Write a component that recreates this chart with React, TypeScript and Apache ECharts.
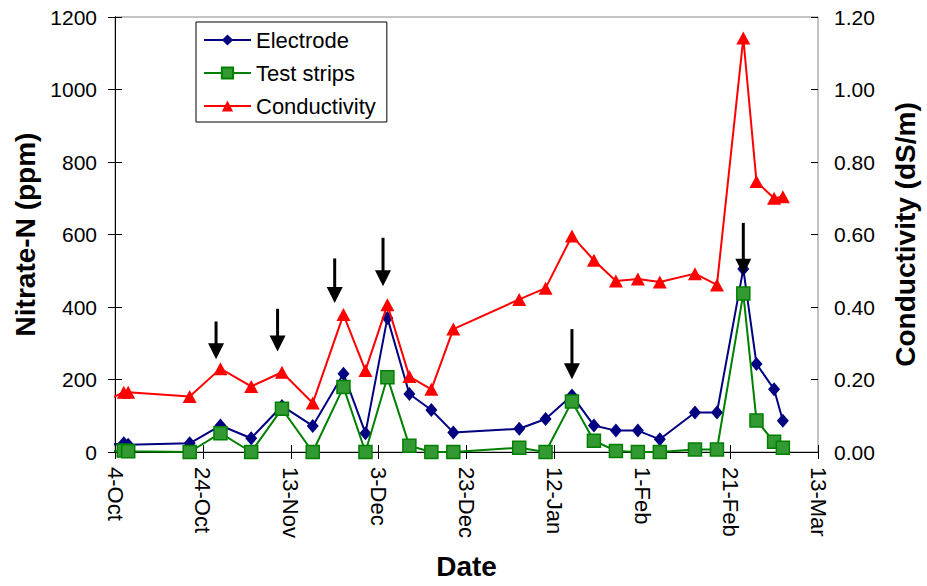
import React, { useEffect, useRef } from "react";
import * as echarts from "echarts";

// Sampling dates (first one precedes the axis start and is clipped)
const START = "2004-10-04";
const sampleDates = [
  "2004-09-30", "2004-10-06", "2004-10-07", "2004-10-21", "2004-10-28",
  "2004-11-04", "2004-11-11", "2004-11-18", "2004-11-25", "2004-11-30",
  "2004-12-05", "2004-12-10", "2004-12-15", "2004-12-20", "2005-01-04",
  "2005-01-10", "2005-01-16", "2005-01-21", "2005-01-26", "2005-01-31",
  "2005-02-05", "2005-02-13", "2005-02-18", "2005-02-24", "2005-02-27",
  "2005-03-03", "2005-03-05",
];

// Nitrate-N (ppm)
const electrode = [
  16, 24, 20, 24, 73, 38, 127, 72, 216, 52, 370, 160, 116, 54, 64,
  91, 156, 73, 59, 59, 35, 109, 109, 505, 243, 173, 86,
];
const testStrips = [
  0, 4, 2, 0, 52, 0, 119, 0, 179, 0, 206, 17, 0, 0, 12,
  0, 139, 31, 3, 0, 0, 7, 7, 437, 87, 28, 12,
];
// Conductivity (dS/m)
const conductivity = [
  0.13, 0.165, 0.165, 0.153, 0.23, 0.181, 0.22, 0.135, 0.379, 0.225, 0.406,
  0.208, 0.173, 0.339, 0.421, 0.452, 0.596, 0.529, 0.472, 0.477, 0.469,
  0.492, 0.461, 1.142, 0.746, 0.7, 0.704,
];

// Event arrows: date, tip and tail heights on the nitrate scale (ppm)
const arrowDates = ["2004-10-27", "2004-11-10", "2004-11-23", "2004-12-04", "2005-01-16", "2005-02-24"];
const arrowTips = [256, 277, 411, 457, 201, 489];
const arrowTails = [360, 395, 534, 591, 339, 632];

const xTickLabels = ["4-Oct", "24-Oct", "13-Nov", "3-Dec", "23-Dec", "12-Jan", "1-Feb", "21-Feb", "13-Mar"];

const DAY = 86400000;
const dayOf = (s: string) => (Date.parse(s) - Date.parse(START)) / DAY;
const FONT = "'Liberation Sans', Arial, Helvetica, sans-serif";

export default function App() {
  const ref = useRef<HTMLDivElement>(null);

  useEffect(() => {
    document.body.style.margin = "0";
    const chart = echarts.init(ref.current!, null, { renderer: "svg" });
    const days = sampleDates.map(dayOf);
    const pair = (vals: number[]) => days.map((d, i) => [d, vals[i]]);
    const arrows = arrowDates.map((s, i) => [dayOf(s), arrowTips[i], arrowTails[i]]);

    const tickLabel = { color: "#000", fontSize: 21, fontFamily: FONT };
    const axisLine = { show: true, lineStyle: { color: "#000", width: 1 } };
    const outTick = { show: true, length: 7, lineStyle: { color: "#000" } };
    const inTick = { show: true, inside: true, length: 7, lineStyle: { color: "#000" } };
    const titleStyle = { color: "#000", fontSize: 28, fontWeight: "bold", fontFamily: FONT };

    chart.setOption({
      animation: false,
      textStyle: { fontFamily: FONT },
      grid: {
        left: 115, right: 105, top: 17, bottom: 134,
        show: true, borderColor: "#888", borderWidth: 1, backgroundColor: "transparent",
      },
      legend: {
        data: ["Electrode", "Test strips", "Conductivity"],
        orient: "vertical",
        left: 196,
        top: 22,
        itemWidth: 47,
        itemHeight: 14,
        itemGap: 11,
        padding: [7, 11, 5, 7],
        borderColor: "#000",
        borderWidth: 1,
        backgroundColor: "#fff",
        textStyle: { color: "#000", fontSize: 22, fontFamily: FONT },
      },
      xAxis: [
        {
          type: "value", min: 0, max: 160, interval: 20, position: "bottom",
          axisLine, axisTick: outTick, splitLine: { show: false },
          axisLabel: {
            ...tickLabel, fontSize: 22, rotate: -90, margin: 15,
            formatter: (v: number) => xTickLabels[Math.round(v / 20)] ?? "",
          },
          name: "Date", nameLocation: "middle", nameGap: 100, nameTextStyle: titleStyle,
        },
        {
          type: "value", min: 0, max: 160, interval: 20, position: "bottom",
          axisLine: { show: false }, axisTick: inTick, axisLabel: { show: false }, splitLine: { show: false },
        },
      ],
      yAxis: [
        {
          type: "value", min: 0, max: 1200, interval: 200, position: "left",
          axisLine, axisTick: outTick, splitLine: { show: false },
          axisLabel: { ...tickLabel, margin: 18, formatter: (v: number) => String(v) },
          name: "Nitrate-N (ppm)", nameLocation: "middle", nameRotate: 90, nameGap: 76,
          nameTextStyle: titleStyle,
        },
        {
          type: "value", min: 0, max: 1.2, interval: 0.2, position: "right",
          axisLine, axisTick: outTick, splitLine: { show: false },
          axisLabel: { ...tickLabel, margin: 16, formatter: (v: number) => v.toFixed(2) },
          name: "Conductivity (dS/m)", nameLocation: "middle", nameRotate: 90, nameGap: 73,
          nameTextStyle: titleStyle,
        },
        {
          type: "value", min: 0, max: 1200, interval: 200, position: "left",
          axisLine: { show: false }, axisTick: inTick, axisLabel: { show: false }, splitLine: { show: false },
        },
        {
          type: "value", min: 0, max: 1.2, interval: 0.2, position: "right",
          axisLine: { show: false }, axisTick: inTick, axisLabel: { show: false }, splitLine: { show: false },
        },
      ],
      series: [
        {
          name: "Electrode", type: "line", xAxisIndex: 0, yAxisIndex: 0,
          data: pair(electrode),
          symbol: "diamond", symbolSize: [12, 14],
          lineStyle: { color: "#000080", width: 2 },
          itemStyle: { color: "#000080" },
          z: 2,
        },
        {
          name: "Test strips", type: "line", xAxisIndex: 0, yAxisIndex: 0,
          data: pair(testStrips),
          symbol: "rect", symbolSize: 13,
          lineStyle: { color: "#008000", width: 2 },
          itemStyle: { color: "#339933", borderColor: "#008000", borderWidth: 1.5 },
          z: 3,
        },
        {
          name: "Conductivity", type: "line", xAxisIndex: 0, yAxisIndex: 1,
          data: pair(conductivity),
          symbol: "triangle", symbolSize: [14, 13],
          lineStyle: { color: "#ff0000", width: 2 },
          itemStyle: { color: "#ff0000" },
          z: 4,
        },
        {
          name: "arrows", type: "custom", xAxisIndex: 0, yAxisIndex: 0,
          data: arrows,
          encode: { x: 0, y: [1, 2] },
          z: 5,
          renderItem: (_params: any, api: any) => {
            const tip = api.coord([api.value(0), api.value(1)]);
            const tail = api.coord([api.value(0), api.value(2)]);
            const headH = 16;
            const headW = 8;
            return {
              type: "group",
              children: [
                {
                  type: "line",
                  shape: { x1: tip[0], y1: tail[1], x2: tip[0], y2: tip[1] - headH + 2 },
                  style: { stroke: "#000", lineWidth: 3 },
                },
                {
                  type: "polygon",
                  shape: {
                    points: [
                      [tip[0] - headW, tip[1] - headH],
                      [tip[0] + headW, tip[1] - headH],
                      [tip[0], tip[1]],
                    ],
                  },
                  style: { fill: "#000" },
                },
              ],
            };
          },
        },
      ],
    });

    return () => chart.dispose();
  }, []);

  return <div ref={ref} style={{ width: 927, height: 586 }} />;
}
